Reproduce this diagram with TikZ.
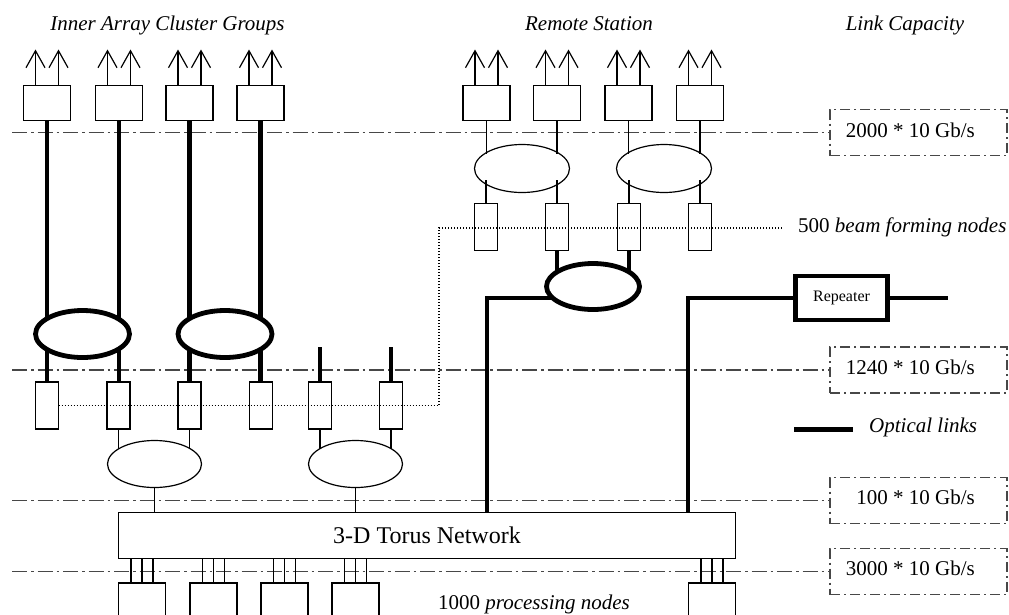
\documentclass[tikz,border=0pt]{standalone}
\usepackage{fontspec}
\setmainfont{Liberation Serif}
\usetikzlibrary{shapes.geometric,arrows.meta}
\begin{document}
\begin{tikzpicture}[x=1pt,y=-1pt,
  wire/.style={line width=1.2pt},
  optic/.style={line width=4.8pt},
  unit/.style={draw,line width=1.2pt,minimum width=47pt,minimum height=35pt,inner sep=0pt,outer sep=0pt},
  slim/.style={draw,line width=1.2pt,minimum width=23pt,minimum height=47pt,inner sep=0pt,outer sep=0pt},
  hub/.style={ellipse,draw,fill=white,line width=1.2pt,minimum width=94pt,minimum height=47pt,inner sep=0pt,outer sep=0pt},
  bighub/.style={ellipse,draw,fill=white,line width=4.8pt,minimum width=94pt,minimum height=47pt,inner sep=0pt,outer sep=0pt},
  level/.style={draw=black!72,line width=1.5pt,dash pattern=on 15pt off 4pt on 2.5pt off 4pt},
  capbox/.style={draw=black!72,line width=1.2pt,dash pattern=on 10pt off 4pt on 2pt off 4pt,minimum width=177pt,minimum height=46pt,inner sep=0pt,outer sep=0pt},
  dots/.style={line width=1.1pt,dash pattern=on 1.2pt off 1.8pt},
  antenna/.style={line width=1.2pt,-{Straight Barb[length=17pt,width=19pt]}},
  lbl/.style={font=\fontsize{21}{25}\selectfont,inner sep=0pt},
  heading/.style={lbl,font=\fontsize{21}{25}\selectfont\itshape,anchor=base},
]
\useasboundingbox (0,0) rectangle (1009,614);
\clip (0,0) rectangle (1009,614);

% column headings
\node[heading] (hInner) at (167.5,30) {Inner Array Cluster Groups};
\node[heading] (hRemote) at (589,30) {Remote Station};
\node[heading] (hCap) at (905,30) {Link Capacity};

% capacity boxes on the right
\node[capbox] (c1) at (918.5,132.5) {};
\node[capbox] (c2) at (918.5,370) {};
\node[capbox] (c3) at (918.5,500.5) {};
\node[capbox] (c4) at (918.5,571.5) {};
\node[lbl,anchor=base east] (c1t) at (975,137) {2000 * 10 Gb/s};
\node[lbl,anchor=base east] (c2t) at (975,374) {1240 * 10 Gb/s};
\node[lbl,anchor=base east] (c3t) at (975,504) {100 * 10 Gb/s};
\node[lbl,anchor=base east] (c4t) at (975,575) {3000 * 10 Gb/s};

% level boundaries
\coordinate (l1) at (12,132.5);
\coordinate (l2) at (12,370);
\coordinate (l3) at (12,500.5);
\coordinate (l4) at (12,571.5);
\draw[level] (l1) -- (c1.west);
\draw[level] (l2) -- (c2.west);
\draw[level] (l3) -- (c3.west);
\draw[level] (l4) -- (c4.west);

% antenna units
\foreach \i/\x in {1/47,2/119,3/189.5,4/260.5}
  \node[unit] (a\i) at (\x,103) {};
\foreach \i/\x in {1/486.5,2/557,3/628.5,4/700}
  \node[unit] (r\i) at (\x,103) {};
\foreach \n in {a1,a2,a3,a4,r1,r2,r3,r4}{
  \draw[antenna] ([xshift=-11.5pt]\n.north) -- ++(0,-36);
  \draw[antenna] ([xshift=11.5pt]\n.north) -- ++(0,-36);
}

% beam forming nodes
\foreach \i/\x in {1/47,2/118.5,3/189.5,4/261,5/320,6/391}
  \node[slim] (s\i) at (\x,405.5) {};
\foreach \i/\x in {1/486,2/557,3/629,4/700}
  \node[slim] (q\i) at (\x,227) {};

% processing nodes and the torus
\node[draw,line width=1.2pt,minimum width=617pt,minimum height=46pt,inner sep=0pt,outer sep=0pt,
      font=\fontsize{24}{28}\selectfont] (torus) at (427,535.5) {3-D Torus Network};
\foreach \i/\x in {1/142,2/213.5,3/284.5,4/355.5,5/712}
  \node[draw,line width=1.2pt,minimum width=47pt,minimum height=48pt,inner sep=0pt,outer sep=0pt] (p\i) at (\x,607) {};
\foreach \p in {p1,p2,p3,p4,p5}
  \foreach \dx in {-11,0,11}
    \draw[wire] ([xshift=\dx pt]\p.north) -- ([xshift=\dx pt]\p.north |- torus.south);
\node[lbl,anchor=base west] (procl) at (438,609) {1000 \textit{processing nodes}};

% thin electrical wires
\foreach \n in {1,2,3,4}
  \draw[wire] (r\n.south) -- (r\n.south |- q\n.north);
\draw[wire] (s2.south) -- (s2.south |- 0,464);
\draw[wire] (s3.south) -- (s3.south |- 0,464);
\draw[wire] (s5.south) -- (s5.south |- 0,464);
\draw[wire] (s6.south) -- (s6.south |- 0,464);

% optical links
\foreach \n in {1,2,3,4}
  \draw[optic] (a\n.south) -- (a\n.south |- s\n.north);
\draw[optic] (s5.north) -- ++(0,-35);
\draw[optic] (s6.north) -- ++(0,-35);
\draw[optic] (q2.south) -- ++(0,35);
\draw[optic] (q3.south) -- ++(0,35);
\node[draw,line width=4.8pt,minimum width=92pt,minimum height=44pt,inner sep=0pt,outer sep=0pt,
      font=\fontsize{16}{19}\selectfont] (rep) at (841.5,298) {Repeater};
\coordinate (drop) at (487,0);
\coordinate (rise) at (688,0);
\coordinate (tail) at (948,298);
\draw[optic] (593,298) -| (torus.north -| drop);
\draw[optic] (torus.north -| rise) |- (rep.west);
\draw[optic] (rep.east) -- (tail);

% switches
\node[bighub] (g1) at (82.5,334) {};
\node[bighub] (g2) at (225,334) {};
\node[bighub,minimum width=93pt,minimum height=46pt] (g3) at (593,286.5) {};
\node[hub] (h1) at (154.5,464) {};
\node[hub] (h2) at (355.5,464) {};
\node[hub,minimum width=95pt,minimum height=48pt] (h3) at (522,168.5) {};
\node[hub,minimum width=95pt,minimum height=48pt] (h4) at (664,168.5) {};
\draw[wire] (h1.south) -- (h1.south |- torus.north);
\draw[wire] (h2.south) -- (h2.south |- torus.north);

% short wire ends showing inside the remote switches
\foreach \n in {1,2,3,4}{
  \draw[wire] (r\n.south |- 0,150) -- ++(0,4);
  \draw[wire] (q\n.north) -- ++(0,-24);
}

% beam forming control path
\coordinate (turn) at (439,228);
\coordinate (beamend) at (782,228);
\draw[dots] (s1.east) -| (turn) -- (beamend);
\node[lbl,anchor=base west] (beam) at (798,232) {500 \textit{beam forming nodes}};

% legend
\coordinate (leg) at (794,429.5);
\draw[optic] (leg) -- ++(59,0);
\node[lbl,anchor=base west] (legt) at (869,432) {\textit{Optical links}};
\end{tikzpicture}
\end{document}
